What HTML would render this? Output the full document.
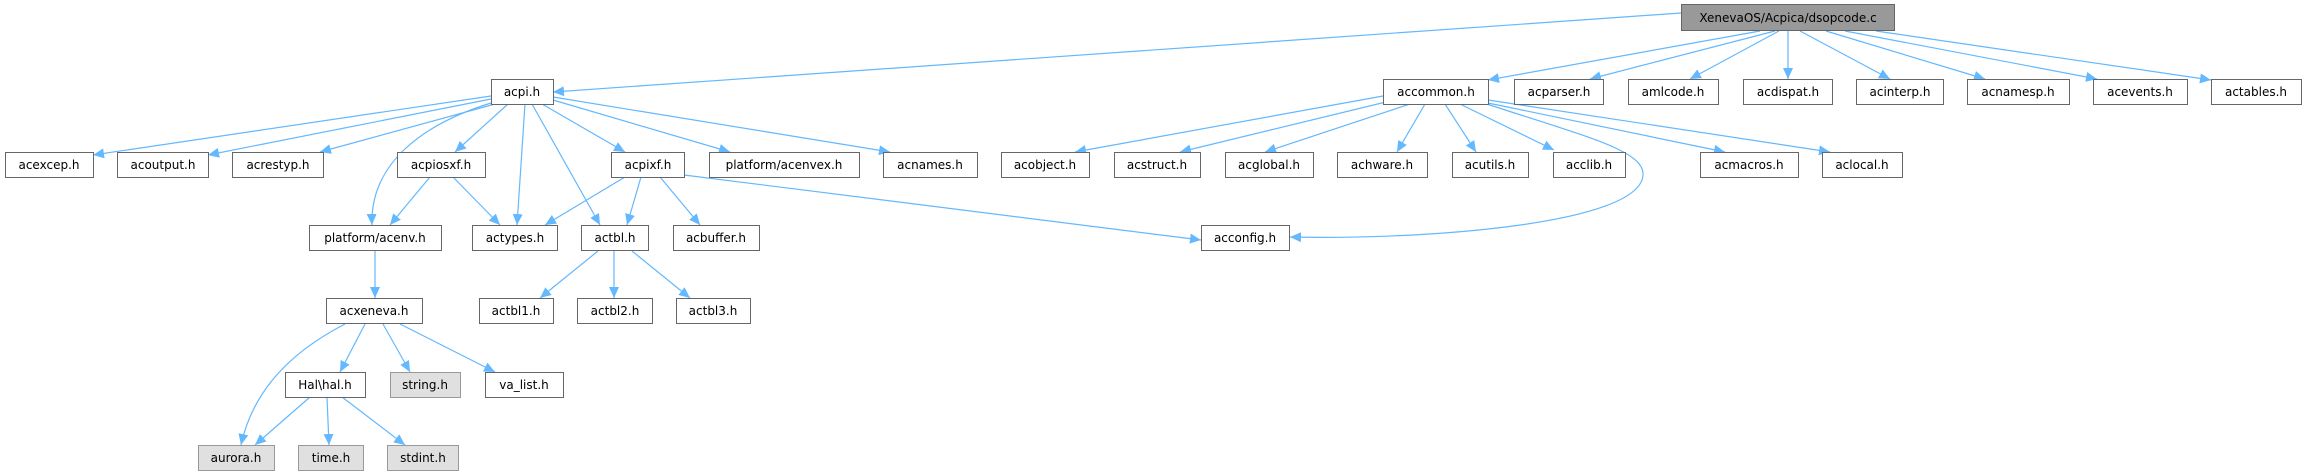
<!DOCTYPE html>
<html><head><meta charset="utf-8"><style>
html,body{margin:0;padding:0;background:#fff;}
svg{display:block;}
text{font-family:"DejaVu Sans","Liberation Sans",sans-serif;font-size:12px;fill:#000;}
</style></head><body>
<svg width="2306" height="476" viewBox="0 0 2306 476" xmlns="http://www.w3.org/2000/svg">
<defs>
<marker id="a" markerUnits="userSpaceOnUse" markerWidth="12" markerHeight="10" refX="11" refY="5" orient="auto">
<path d="M0,0 L11,5 L0,10 Z" fill="#63b8ff"/>
</marker>
</defs>
<g stroke="#63b8ff" stroke-width="1.2" fill="none" marker-end="url(#a)">
<line x1="1681" y1="13" x2="553" y2="92"/>
<line x1="1760" y1="31" x2="1488" y2="80"/>
<line x1="1775" y1="31" x2="1590" y2="79"/>
<line x1="1779" y1="31" x2="1690" y2="79"/>
<line x1="1788" y1="31" x2="1788" y2="79"/>
<line x1="1800" y1="31" x2="1890" y2="79"/>
<line x1="1826" y1="31" x2="1985" y2="79"/>
<line x1="1845" y1="31" x2="2097" y2="79"/>
<line x1="1876" y1="31" x2="2211" y2="80"/>
<line x1="491" y1="96" x2="93" y2="155"/>
<line x1="491" y1="99" x2="208" y2="155"/>
<line x1="495" y1="104" x2="320" y2="152"/>
<line x1="508" y1="104" x2="455" y2="152"/>
<line x1="525" y1="104" x2="517" y2="225"/>
<line x1="532" y1="104" x2="600" y2="225"/>
<line x1="542" y1="104" x2="625" y2="152"/>
<line x1="553" y1="100" x2="730" y2="152"/>
<line x1="553" y1="97" x2="890" y2="152"/>
<path d="M491,103 C420,125 370,165 372,225"/>
<line x1="430" y1="177" x2="390" y2="225"/>
<line x1="453" y1="177" x2="500" y2="225"/>
<line x1="625" y1="177" x2="545" y2="225"/>
<line x1="641" y1="177" x2="627" y2="225"/>
<line x1="660" y1="177" x2="700" y2="225"/>
<line x1="684" y1="175" x2="1201" y2="240"/>
<line x1="375" y1="251" x2="375" y2="298"/>
<line x1="598" y1="251" x2="540" y2="298"/>
<line x1="614" y1="251" x2="614" y2="298"/>
<line x1="632" y1="251" x2="690" y2="298"/>
<line x1="365" y1="324" x2="340" y2="372"/>
<line x1="383" y1="324" x2="410" y2="372"/>
<line x1="400" y1="324" x2="495" y2="372"/>
<path d="M345,324 C285,355 252,395 241,445"/>
<line x1="310" y1="397" x2="255" y2="445"/>
<line x1="327" y1="397" x2="329" y2="445"/>
<line x1="342" y1="397" x2="405" y2="445"/>
<line x1="1383" y1="96" x2="1075" y2="152"/>
<line x1="1390" y1="101" x2="1180" y2="152"/>
<line x1="1410" y1="104" x2="1265" y2="152"/>
<line x1="1425" y1="104" x2="1397" y2="152"/>
<line x1="1445" y1="104" x2="1476" y2="152"/>
<line x1="1460" y1="104" x2="1554" y2="150"/>
<line x1="1488" y1="103" x2="1725" y2="152"/>
<line x1="1488" y1="100" x2="1830" y2="152"/>
<path d="M1487,104 C1580,135 1645,150 1643,175 C1640,225 1420,240 1290,237"/>
</g>
<g stroke-width="1">
<rect x="1681.5" y="4.5" width="213" height="26" fill="#999" stroke="#666"/>
<g fill="#fff" stroke="#666">
<rect x="491.5" y="79.5" width="62" height="25"/>
<rect x="1383.5" y="79.5" width="105" height="25"/>
<rect x="1514.5" y="79.5" width="89" height="25"/>
<rect x="1628.5" y="79.5" width="90" height="25"/>
<rect x="1743.5" y="79.5" width="89" height="25"/>
<rect x="1856.5" y="79.5" width="87" height="25"/>
<rect x="1967.5" y="79.5" width="102" height="25"/>
<rect x="2093.5" y="79.5" width="94" height="25"/>
<rect x="2211.5" y="79.5" width="90" height="25"/>
<rect x="5.5" y="152.5" width="88" height="25"/>
<rect x="117.5" y="152.5" width="91" height="25"/>
<rect x="232.5" y="152.5" width="91" height="25"/>
<rect x="397.5" y="152.5" width="88" height="25"/>
<rect x="611.5" y="152.5" width="73" height="25"/>
<rect x="709.5" y="152.5" width="150" height="25"/>
<rect x="883.5" y="152.5" width="94" height="25"/>
<rect x="1001.5" y="152.5" width="88" height="25"/>
<rect x="1114.5" y="152.5" width="86" height="25"/>
<rect x="1225.5" y="152.5" width="88" height="25"/>
<rect x="1337.5" y="152.5" width="90" height="25"/>
<rect x="1452.5" y="152.5" width="76" height="25"/>
<rect x="1553.5" y="152.5" width="72" height="25"/>
<rect x="1700.5" y="152.5" width="98" height="25"/>
<rect x="1822.5" y="152.5" width="80" height="25"/>
<rect x="309.5" y="225.5" width="132" height="25"/>
<rect x="472.5" y="225.5" width="85" height="25"/>
<rect x="581.5" y="225.5" width="67" height="25"/>
<rect x="673.5" y="225.5" width="86" height="25"/>
<rect x="1201.5" y="225.5" width="88" height="25"/>
<rect x="326.5" y="298.5" width="96" height="25"/>
<rect x="479.5" y="298.5" width="74" height="25"/>
<rect x="577.5" y="298.5" width="75" height="25"/>
<rect x="676.5" y="298.5" width="74" height="25"/>
<rect x="285.5" y="372.5" width="80" height="25"/>
<rect x="485.5" y="372.5" width="78" height="25"/>
</g>
<g fill="#e0e0e0" stroke="#999">
<rect x="390.5" y="372.5" width="70" height="25"/>
<rect x="198.5" y="445.5" width="76" height="25"/>
<rect x="298.5" y="445.5" width="65" height="25"/>
<rect x="387.5" y="445.5" width="71" height="25"/>
</g>
</g>
<g text-anchor="middle">
<text x="1788" y="22">XenevaOS/Acpica/dsopcode.c</text>
<text x="522" y="96">acpi.h</text>
<text x="1436" y="96">accommon.h</text>
<text x="1559" y="96">acparser.h</text>
<text x="1673" y="96">amlcode.h</text>
<text x="1788" y="96">acdispat.h</text>
<text x="1900" y="96">acinterp.h</text>
<text x="2018" y="96">acnamesp.h</text>
<text x="2140" y="96">acevents.h</text>
<text x="2256" y="96">actables.h</text>
<text x="49" y="169">acexcep.h</text>
<text x="163" y="169">acoutput.h</text>
<text x="278" y="169">acrestyp.h</text>
<text x="441" y="169">acpiosxf.h</text>
<text x="648" y="169">acpixf.h</text>
<text x="784" y="169">platform/acenvex.h</text>
<text x="930" y="169">acnames.h</text>
<text x="1045" y="169">acobject.h</text>
<text x="1157" y="169">acstruct.h</text>
<text x="1269" y="169">acglobal.h</text>
<text x="1382" y="169">achware.h</text>
<text x="1490" y="169">acutils.h</text>
<text x="1589" y="169">acclib.h</text>
<text x="1749" y="169">acmacros.h</text>
<text x="1862" y="169">aclocal.h</text>
<text x="375" y="242">platform/acenv.h</text>
<text x="515" y="242">actypes.h</text>
<text x="615" y="242">actbl.h</text>
<text x="716" y="242">acbuffer.h</text>
<text x="1245" y="242">acconfig.h</text>
<text x="374" y="315">acxeneva.h</text>
<text x="516" y="315">actbl1.h</text>
<text x="615" y="315">actbl2.h</text>
<text x="713" y="315">actbl3.h</text>
<text x="325" y="389">Hal\hal.h</text>
<text x="425" y="389">string.h</text>
<text x="524" y="389">va_list.h</text>
<text x="236" y="462">aurora.h</text>
<text x="331" y="462">time.h</text>
<text x="423" y="462">stdint.h</text>
</g>
</svg>
</body></html>
